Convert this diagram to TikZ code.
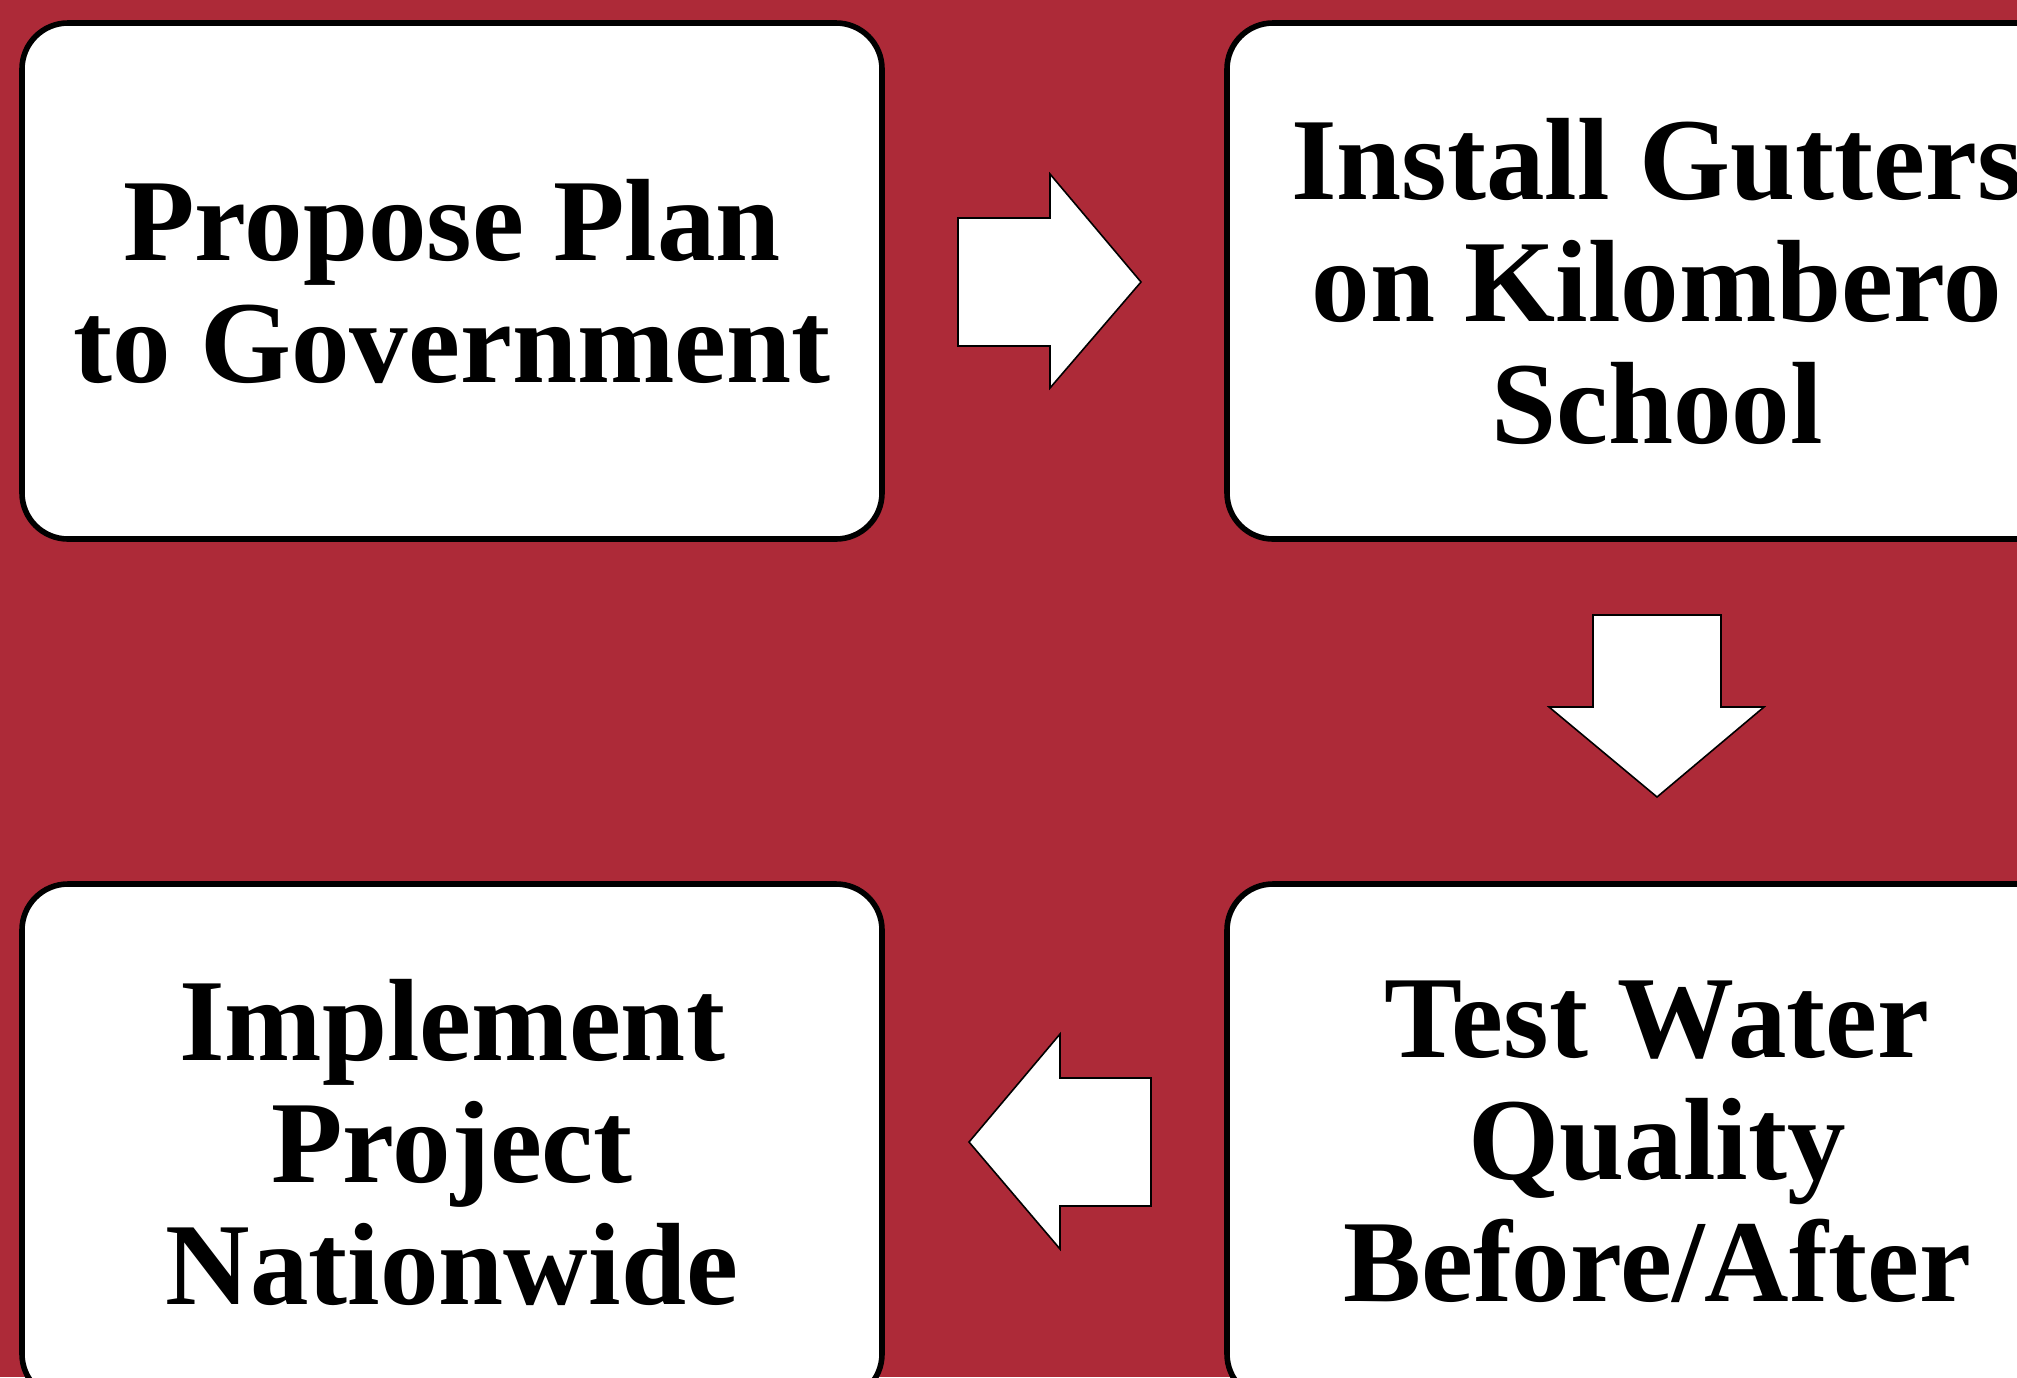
\documentclass[tikz,border=0pt]{standalone}
\usepackage{fontspec}
\setmainfont{Liberation Serif}
\definecolor{bgred}{RGB}{173,42,56}
\tikzset{
  stepbox/.style={draw=black, line width=2.8pt, fill=white, rounded corners=23pt,
    minimum width=430pt, minimum height=258pt, align=center, inner sep=0pt,
    font=\fontsize{58.5pt}{61pt}\selectfont\bfseries},
  blockarrow/.style={draw=black, line width=0.8pt, fill=white, line join=miter}
}
\begin{document}
\begin{tikzpicture}[x=0.5pt,y=-0.5pt]
\useasboundingbox (0,0) rectangle (2017,1377);
\clip (0,0) rectangle (2017,1377);
\fill[bgred] (0,0) rectangle (2017,1377);
\node[stepbox] (propose) at (452,281) {Propose Plan\\to Government};
\node[stepbox] (install) at (1657,281) {Install Gutters\\on Kilombero\\School};
\node[stepbox] (test) at (1657,1142) {Test Water\\Quality\\Before/After};
\node[stepbox] (implement) at (452,1142) {Implement\\Project\\Nationwide};
% right arrow
\draw[blockarrow] (958,218) -- (1050,218) -- (1050,174) -- (1141,282) -- (1050,388) -- (1050,346) -- (958,346) -- cycle;
% down arrow
\draw[blockarrow] (1593,615) -- (1721,615) -- (1721,707) -- (1764,707) -- (1657,797) -- (1549,707) -- (1593,707) -- cycle;
% left arrow
\draw[blockarrow] (1151,1078) -- (1060,1078) -- (1060,1034) -- (969,1142) -- (1060,1249) -- (1060,1206) -- (1151,1206) -- cycle;
\end{tikzpicture}
\end{document}
